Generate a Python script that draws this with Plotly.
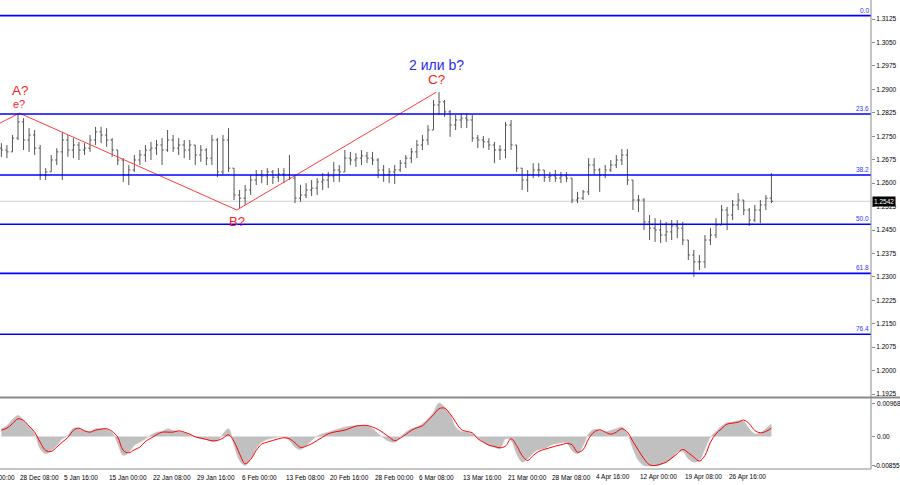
import numpy as np
import plotly.graph_objects as go

# ---------------- data ----------------
first_open = 1.2712
highs = [
    1.2728, 1.2722, 1.2754, 1.2824, 1.2808, 1.2776, 1.2770, 1.2722, 1.2648, 1.2690,
    1.2712, 1.2764, 1.2754, 1.2744, 1.2732, 1.2728, 1.2754, 1.2780, 1.2780, 1.2776,
    1.2744, 1.2706, 1.2680, 1.2658, 1.2690, 1.2706, 1.2722, 1.2732, 1.2738, 1.2744,
    1.2770, 1.2754, 1.2744, 1.2738, 1.2738, 1.2722, 1.2722, 1.2712, 1.2754, 1.2744,
    1.2754, 1.2776, 1.2648, 1.2578, 1.2594, 1.2626, 1.2642, 1.2642, 1.2648, 1.2642,
    1.2648, 1.2648, 1.2690, 1.2626, 1.2594, 1.2600, 1.2610, 1.2616, 1.2632, 1.2636,
    1.2668, 1.2658, 1.2706, 1.2700, 1.2696, 1.2706, 1.2700, 1.2700, 1.2680, 1.2658,
    1.2648, 1.2658, 1.2674, 1.2690, 1.2712, 1.2738, 1.2754, 1.2786, 1.2866, 1.2892,
    1.2866, 1.2834, 1.2818, 1.2824, 1.2824, 1.2818, 1.2754, 1.2751, 1.2744, 1.2732,
    1.2722, 1.2796, 1.2802, 1.2722, 1.2648, 1.2642, 1.2664, 1.2664, 1.2642, 1.2636,
    1.2642, 1.2636, 1.2636, 1.2616, 1.2572, 1.2578, 1.2680, 1.2680, 1.2648, 1.2658,
    1.2674, 1.2690, 1.2709, 1.2709, 1.2610, 1.2562, 1.2552, 1.2498, 1.2488, 1.2482,
    1.2476, 1.2482, 1.2482, 1.2476, 1.2418, 1.2386, 1.2370, 1.2434, 1.2456, 1.2488,
    1.2530, 1.2524, 1.2546, 1.2568, 1.2546, 1.2520, 1.2530, 1.2546, 1.2562, 1.2632,
]
lows = [
    1.2684, 1.2680, 1.2700, 1.2738, 1.2706, 1.2700, 1.2690, 1.2610, 1.2610, 1.2636,
    1.2658, 1.2610, 1.2684, 1.2680, 1.2674, 1.2690, 1.2700, 1.2722, 1.2728, 1.2716,
    1.2684, 1.2658, 1.2604, 1.2594, 1.2636, 1.2658, 1.2668, 1.2674, 1.2690, 1.2658,
    1.2700, 1.2700, 1.2690, 1.2680, 1.2674, 1.2658, 1.2668, 1.2658, 1.2658, 1.2619,
    1.2626, 1.2636, 1.2546, 1.2520, 1.2530, 1.2562, 1.2594, 1.2600, 1.2594, 1.2597,
    1.2604, 1.2600, 1.2610, 1.2536, 1.2540, 1.2552, 1.2559, 1.2562, 1.2578, 1.2584,
    1.2604, 1.2604, 1.2636, 1.2658, 1.2652, 1.2658, 1.2664, 1.2658, 1.2616, 1.2604,
    1.2600, 1.2597, 1.2636, 1.2648, 1.2664, 1.2680, 1.2706, 1.2722, 1.2770, 1.2818,
    1.2812, 1.2748, 1.2770, 1.2776, 1.2776, 1.2732, 1.2712, 1.2712, 1.2706, 1.2664,
    1.2674, 1.2680, 1.2706, 1.2636, 1.2578, 1.2572, 1.2616, 1.2619, 1.2604, 1.2604,
    1.2604, 1.2600, 1.2604, 1.2536, 1.2536, 1.2546, 1.2562, 1.2626, 1.2572, 1.2616,
    1.2636, 1.2648, 1.2658, 1.2594, 1.2514, 1.2508, 1.2450, 1.2418, 1.2412, 1.2408,
    1.2412, 1.2418, 1.2424, 1.2402, 1.2354, 1.2300, 1.2322, 1.2328, 1.2402, 1.2424,
    1.2466, 1.2450, 1.2482, 1.2514, 1.2498, 1.2463, 1.2476, 1.2472, 1.2514, 1.2536,
]
closes = [
    1.2706, 1.2700, 1.2744, 1.2796, 1.2738, 1.2754, 1.2712, 1.2626, 1.2636, 1.2674,
    1.2700, 1.2738, 1.2706, 1.2722, 1.2706, 1.2712, 1.2738, 1.2764, 1.2754, 1.2738,
    1.2706, 1.2674, 1.2626, 1.2642, 1.2674, 1.2690, 1.2706, 1.2712, 1.2722, 1.2706,
    1.2738, 1.2712, 1.2722, 1.2706, 1.2722, 1.2690, 1.2706, 1.2680, 1.2738, 1.2636,
    1.2738, 1.2648, 1.2562, 1.2552, 1.2578, 1.2610, 1.2626, 1.2623, 1.2636, 1.2619,
    1.2629, 1.2626, 1.2616, 1.2552, 1.2562, 1.2578, 1.2584, 1.2604, 1.2610, 1.2623,
    1.2642, 1.2636, 1.2680, 1.2674, 1.2680, 1.2687, 1.2680, 1.2674, 1.2642, 1.2626,
    1.2636, 1.2642, 1.2664, 1.2680, 1.2700, 1.2722, 1.2738, 1.2770, 1.2850, 1.2860,
    1.2828, 1.2786, 1.2802, 1.2808, 1.2802, 1.2744, 1.2738, 1.2732, 1.2722, 1.2706,
    1.2706, 1.2786, 1.2722, 1.2648, 1.2610, 1.2626, 1.2642, 1.2642, 1.2619, 1.2623,
    1.2616, 1.2623, 1.2616, 1.2546, 1.2552, 1.2572, 1.2658, 1.2642, 1.2626, 1.2642,
    1.2658, 1.2674, 1.2690, 1.2610, 1.2546, 1.2546, 1.2476, 1.2456, 1.2450, 1.2434,
    1.2444, 1.2463, 1.2456, 1.2418, 1.2370, 1.2348, 1.2348, 1.2418, 1.2434, 1.2466,
    1.2514, 1.2498, 1.2530, 1.2546, 1.2514, 1.2482, 1.2514, 1.2530, 1.2552, 1.2542,
]
macd_main = [
    0.00222, 0.00318, 0.00492, 0.00608, 0.00463, 0.00270, 0.00077, -0.00357, -0.00502, -0.00405,
    -0.00261, -0.00068, 0.00029, 0.00241, 0.00241, 0.00174, 0.00145, 0.00222, 0.00222, 0.00203,
    0.00106, -0.00212, -0.00550, -0.00454, -0.00261, -0.00164, -0.00068, 0.00048, 0.00125, 0.00145,
    0.00222, 0.00174, 0.00145, 0.00106, 0.00048, -0.00019, -0.00068, -0.00087, -0.00145, -0.00116,
    0.00077, 0.00222, -0.00261, -0.00695, -0.00840, -0.00647, -0.00357, -0.00164, -0.00087, -0.00048,
    -0.00019, -0.00019, -0.00116, -0.00309, -0.00376, -0.00261, -0.00116, 0.00010, 0.00077, 0.00125,
    0.00174, 0.00222, 0.00270, 0.00299, 0.00318, 0.00318, 0.00299, 0.00222, 0.00077, -0.00048,
    -0.00145, -0.00164, -0.00019, 0.00125, 0.00222, 0.00270, 0.00367, 0.00511, 0.00704, 0.00968,
    0.00849, 0.00627, 0.00270, 0.00145, 0.00125, 0.00077, -0.00048, -0.00164, -0.00261, -0.00309,
    -0.00357, -0.00068, -0.00116, -0.00502, -0.00743, -0.00647, -0.00473, -0.00376, -0.00357, -0.00261,
    -0.00212, -0.00183, -0.00183, -0.00405, -0.00502, -0.00261, 0.00077, 0.00203, 0.00174, 0.00145,
    0.00174, 0.00222, 0.00270, 0.00077, -0.00357, -0.00695, -0.00840, -0.00855, -0.00850, -0.00820,
    -0.00743, -0.00647, -0.00454, -0.00434, -0.00647, -0.00743, -0.00695, -0.00357, -0.00019, 0.00145,
    0.00299, 0.00396, 0.00415, 0.00454, 0.00434, 0.00222, 0.00077, 0.00106, 0.00222, 0.00367,
]
macd_signal = [
    0.00183, 0.00241, 0.00367, 0.00511, 0.00463, 0.00299, 0.00125, -0.00164, -0.00405, -0.00434,
    -0.00309, -0.00164, -0.00029, 0.00174, 0.00241, 0.00164, 0.00125, 0.00183, 0.00212, 0.00222,
    0.00145, -0.00019, -0.00405, -0.00473, -0.00386, -0.00309, -0.00145, -0.00048, 0.00048, 0.00125,
    0.00125, 0.00125, 0.00164, 0.00125, 0.00068, -0.00010, -0.00048, -0.00087, -0.00125, -0.00116,
    -0.00048, 0.00048, -0.00145, -0.00502, -0.00791, -0.00666, -0.00405, -0.00222, -0.00164, -0.00116,
    -0.00068, -0.00039, -0.00068, -0.00183, -0.00318, -0.00280, -0.00212, -0.00116, -0.00019, 0.00077,
    0.00125, 0.00154, 0.00183, 0.00241, 0.00299, 0.00318, 0.00318, 0.00270, 0.00203, 0.00097,
    -0.00019, -0.00125, -0.00048, 0.00058, 0.00174, 0.00251, 0.00309, 0.00463, 0.00627, 0.00801,
    0.00820, 0.00656, 0.00415, 0.00203, 0.00145, 0.00106, -0.00068, -0.00164, -0.00251, -0.00290,
    -0.00328, -0.00280, -0.00068, -0.00261, -0.00550, -0.00695, -0.00550, -0.00434, -0.00376, -0.00328,
    -0.00280, -0.00241, -0.00203, -0.00241, -0.00454, -0.00386, -0.00068, 0.00125, 0.00193, 0.00125,
    0.00068, 0.00125, 0.00222, 0.00125, -0.00145, -0.00405, -0.00647, -0.00820, -0.00840, -0.00801,
    -0.00743, -0.00627, -0.00502, -0.00376, -0.00473, -0.00598, -0.00714, -0.00550, -0.00164, 0.00077,
    0.00222, 0.00357, 0.00386, 0.00415, 0.00473, 0.00367, 0.00174, 0.00106, 0.00145, 0.00241,
]
time_labels = ["20 Dec 00:00", "28 Dec 08:00", "5 Jan 16:00", "15 Jan 00:00", "22 Jan 08:00",
               "29 Jan 16:00", "6 Feb 00:00", "13 Feb 08:00", "20 Feb 16:00", "28 Feb 00:00",
               "6 Mar 08:00", "13 Mar 16:00", "21 Mar 00:00", "28 Mar 08:00", "4 Apr 16:00",
               "12 Apr 00:00", "19 Apr 08:00", "26 Apr 16:00"]
price_ticks = [1.3125, 1.3050, 1.2975, 1.2900, 1.2825, 1.2750, 1.2675, 1.2600, 1.2525,
               1.2450, 1.2375, 1.2300, 1.2225, 1.2150, 1.2075, 1.2000, 1.1925]
macd_ticks = [0.00968, 0.0, -0.00855]
macd_tick_text = ["0.00968", "0.00", "-0.00855"]
fib_pcts = [0.0, 23.6, 38.2, 50.0, 61.8, 76.4]
fib_top = 1.3136
fib_bottom = 1.18012
wave_bar = [19, 33, 190, 334]          # bar positions (4h-bar index)
wave_price = [1.2792, 1.2824, 1.2514, 1.2891]
last_price = 1.2542

# ---------------- figure ----------------
N = len(closes)
bar_x = 20 + 4 * np.arange(N)          # each drawn bar spans four 4h bars
opens = [first_open] + closes[:-1]
label_x = 32 * np.arange(len(time_labels))
XR = [19.0, 647.9]

H_PLOT = 469.0
main_dom = [(H_PLOT - 396) / H_PLOT, 1.0]
macd_dom = [0.0, 70 / H_PLOT]

FONT = "Liberation Sans, Arial, sans-serif"
BLUE = "#0000ff"
RED = "#ff2020"

fig = go.Figure()

fig.add_trace(go.Ohlc(
    x=bar_x, open=opens, high=highs, low=lows, close=closes,
    increasing_line_color="#555555", decreasing_line_color="#555555",
    line_width=1, tickwidth=0.3, xaxis="x", yaxis="y", hoverinfo="skip",
))
fig.add_trace(go.Scatter(
    x=wave_bar, y=wave_price, mode="lines",
    line=dict(color="#ff3c3c", width=1), xaxis="x", yaxis="y", hoverinfo="skip",
))
fig.add_trace(go.Scatter(
    x=bar_x, y=macd_main, mode="lines", fill="tozeroy", fillcolor="#c0c0c0",
    line=dict(color="#c0c0c0", width=0.5, shape="spline"),
    xaxis="x2", yaxis="y2", hoverinfo="skip",
))
fig.add_trace(go.Scatter(
    x=bar_x, y=macd_signal, mode="lines", line=dict(color="#ff0000", width=1, shape="spline"),
    xaxis="x2", yaxis="y2", hoverinfo="skip",
))

shapes = []
shapes.append(dict(type="line", xref="paper", x0=0, x1=1, yref="y", y0=last_price, y1=last_price,
                   line=dict(color="#d0d0d0", width=1), layer="below"))
fib_levels = [fib_top - p / 100 * (fib_top - fib_bottom) for p in fib_pcts]
for lv in fib_levels:
    shapes.append(dict(type="line", xref="paper", x0=0, x1=1, yref="y", y0=lv, y1=lv,
                       line=dict(color=BLUE, width=1.6)))
shapes.append(dict(type="line", xref="paper", x0=1, x1=1, yref="paper", y0=0, y1=1,
                   line=dict(color="#8c8c8c", width=1)))
sep = (H_PLOT - 397.5) / H_PLOT
shapes.append(dict(type="line", xref="paper", x0=0, x1=1.04, yref="paper", y0=sep, y1=sep,
                   line=dict(color="#8a8a8a", width=2)))
shapes.append(dict(type="line", xref="paper", x0=0, x1=1, yref="paper", y0=0, y1=0,
                   line=dict(color="#8c8c8c", width=1)))

ann = []
for p, lv in zip(fib_pcts, fib_levels):
    ann.append(dict(text=f"{p:.1f}", xref="paper", x=1, xanchor="right", yref="y", y=lv,
                    yanchor="bottom", showarrow=False, font=dict(family=FONT, size=6.5, color="#3030ff")))
# time labels (paper coords so a label that starts left of the plot is still drawn, then clipped by the page)
for t, lx in zip(time_labels, label_x):
    px = (lx - XR[0]) / (XR[1] - XR[0])
    ann.append(dict(text=t, xref="paper", x=px, xanchor="left", yref="paper", y=(H_PLOT - 477) / H_PLOT,
                    yanchor="middle", showarrow=False, font=dict(family=FONT, size=6.5, color="#000")))
# MACD scale labels
for v, t in zip(macd_ticks, macd_tick_text):
    ann.append(dict(text=t, xref="paper", x=1, xanchor="left", xshift=(1 if t.startswith("-") else 4),
                    yref="y2", y=v, yanchor="middle", showarrow=False,
                    font=dict(family=FONT, size=6.5, color="#000")))
ann.append(dict(text="A?", x=wave_bar[1], y=wave_price[1], xref="x", yref="y", xshift=1, yshift=23,
                showarrow=False, font=dict(family=FONT, size=13.5, color=RED)))
ann.append(dict(text="e?", x=wave_bar[1], y=wave_price[1], xref="x", yref="y", yshift=9,
                showarrow=False, font=dict(family=FONT, size=11, color=RED)))
ann.append(dict(text="B?", x=wave_bar[2], y=wave_price[2], xref="x", yref="y", yshift=-11,
                showarrow=False, font=dict(family=FONT, size=13, color=RED)))
ann.append(dict(text="C?", x=wave_bar[3], y=wave_price[3], xref="x", yref="y", yshift=13,
                showarrow=False, font=dict(family=FONT, size=13.5, color=RED)))
ann.append(dict(text="2 или b?", x=wave_bar[3], y=wave_price[3], xref="x", yref="y", yshift=27,
                showarrow=False, font=dict(family=FONT, size=14, color="#2a2aee")))
ann.append(dict(text=f"{last_price:.4f}", xref="paper", x=1, xanchor="left", xshift=1,
                yref="y", y=last_price, yanchor="middle", showarrow=False, bgcolor="#000000",
                borderpad=1, font=dict(family=FONT, size=6.5, color="#ffffff")))

fig.update_layout(
    width=900, height=485,
    margin=dict(l=0, r=29, t=0, b=16),
    paper_bgcolor="white", plot_bgcolor="white",
    showlegend=False,
    font=dict(family=FONT, size=6.5, color="#000"),
    xaxis=dict(domain=[0, 1], range=XR, anchor="y", showticklabels=False, showgrid=False,
               zeroline=False, rangeslider=dict(visible=False), fixedrange=True),
    xaxis2=dict(domain=[0, 1], range=XR, anchor="y2", matches="x", showticklabels=False,
                showgrid=False, zeroline=False),
    yaxis=dict(domain=main_dom, range=[1.19188, 1.3186], side="right", tickvals=price_ticks,
               ticktext=[f"{v:.4f}" for v in price_ticks], ticks="outside", ticklen=3,
               tickcolor="#8c8c8c", showgrid=False, zeroline=False, automargin=False,
               tickfont=dict(family=FONT, size=6.5, color="#000")),
    yaxis2=dict(domain=macd_dom, range=[-0.00942, 0.01084], side="right", tickvals=macd_ticks,
                showticklabels=False, ticks="outside", ticklen=3, tickcolor="#8c8c8c",
                showgrid=False, zeroline=False, automargin=False),
    shapes=shapes, annotations=ann,
)

fig.write_html(
    "out.html",
    config={"displayModeBar": False, "staticPlot": True},
    post_script="document.body.style.margin='0';document.body.style.overflow='hidden';",
)
